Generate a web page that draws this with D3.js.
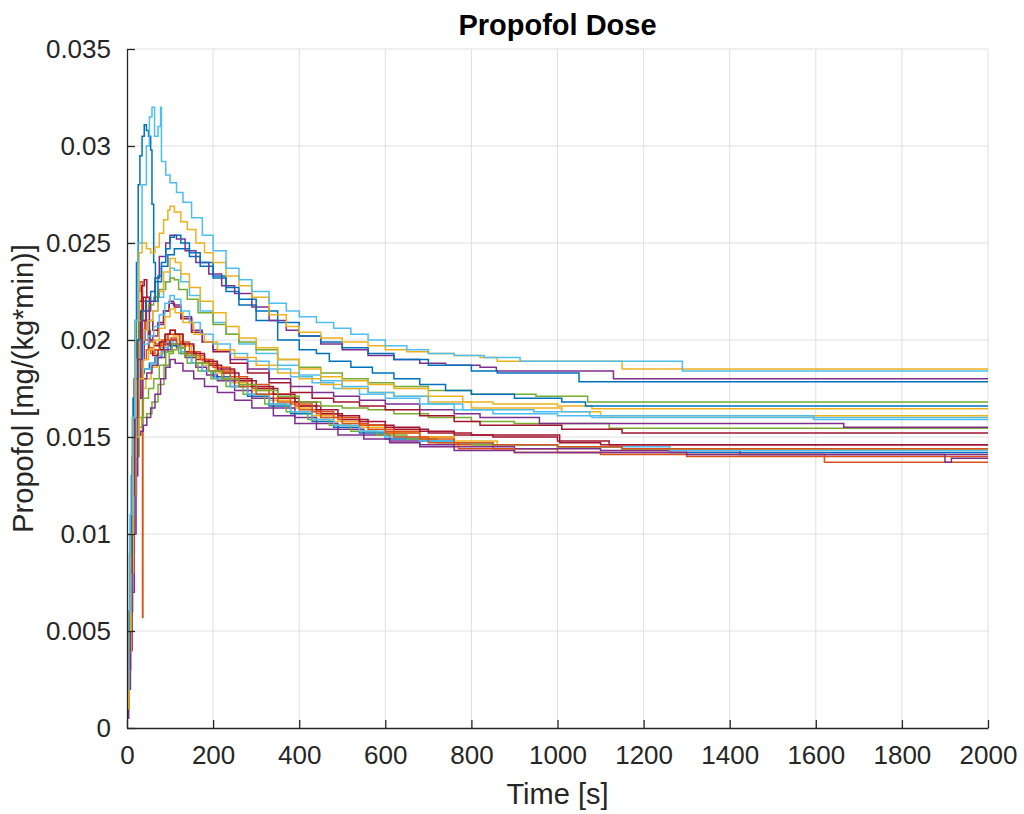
<!DOCTYPE html>
<html>
<head>
<meta charset="utf-8">
<script src="https://cdn.jsdelivr.net/npm/d3@7"></script>
<style>
  body { margin: 0; background: #fff; }
  text { font-family: Arial, "Liberation Sans", sans-serif; }
</style>
</head>
<body>
<svg id="chart" width="1024" height="814"></svg>
<script>
// Propofol dose per patient, [time s, dose mg/(kg*min)], held until the next sample
const cyanTop = [[0,.002],[3,.006],[7,.011],[12,.016],[18,.021],[25,.025],[35,.028],[45,.030],[52,.0315],[58,.032],[64,.0305],[72,.031],[78,.032],[80,.0292],[90,.0285],[100,.0281],[115,.0276],[130,.0271],[150,.0263],[175,.0254],[200,.0246],[230,.0237],[260,.0231],[290,.0225],[330,.0219],[370,.0215],[400,.0212],[440,.0209],[480,.0206],[520,.0203],[560,.0200],[600,.0197],[650,.0195],[700,.0193],[760,.0192],[830,.0191],[913,.0189],[1290,.0184],[2000,.0184]];
const yellowTop = [[0,.001],[4,.005],[8,.010],[14,.016],[20,.021],[28,.0245],[35,.025],[45,.0247],[55,.0245],[65,.0248],[75,.0255],[85,.0262],[95,.0267],[100,.0269],[110,.0266],[125,.0261],[140,.0257],[160,.0250],[180,.0245],[200,.0240],[230,.0233],[260,.0228],[290,.0222],[330,.0213],[370,.0207],[400,.0204],[450,.0201],[500,.0199],[560,.0197],[600,.0195],[650,.0194],[700,.0193],[760,.0192],[820,.0191],[860,.0189],[1150,.0185],[2000,.0185]];
const blueTop = [[0,.002],[3,.005],[6,.009],[10,.013],[14,.017],[18,.020],[22,.024],[26,.028],[30,.0295],[35,.0305],[40,.0311],[45,.0308],[50,.0305],[55,.0298],[58,.027],[62,.024],[66,.022],[72,.0233],[80,.0240],[90,.0247],[100,.0253],[110,.0254],[125,.0250],[145,.0245],[170,.0240],[200,.0233],[230,.0227],[260,.0221],[300,.0215],[350,.0209],[400,.0202],[450,.0199],[500,.0196],[560,.0193],[620,.0190],[700,.0187],[800,.0184],[860,.0183],[1050,.01785],[2000,.01785]];
const purpleTop = [[0,.001],[4,.004],[8,.008],[12,.012],[18,.016],[25,.019],[35,.021],[45,.0215],[55,.022],[65,.0232],[75,.0243],[90,.0250],[100,.0254],[115,.0252],[135,.0246],[160,.0240],[190,.0234],[220,.0228],[250,.0224],[290,.0217],[330,.0210],[370,.0205],[400,.0202],[450,.0198],[500,.0195],[560,.0192],[620,.0190],[680,.0188],[740,.0187],[820,.0186],[858,.0184],[1130,.0180],[2000,.0180]];
const blueUpper = [[0,.003],[4,.006],[8,.010],[13,.015],[18,.018],[25,.020],[35,.0215],[45,.022],[55,.0225],[65,.023],[80,.0238],[95,.0244],[110,.0247],[125,.0247],[145,.0243],[170,.0238],[200,.0232],[230,.0225],[260,.0218],[300,.0210],[350,.0200],[400,.0195],[440,.0193],[470,.0189],[520,.0186],[570,.0183],[620,.0180],[680,.0177],[740,.0174],[800,.0172],[900,.0170],[1010,.0168],[1065,.0166],[2000,.0166]];
const yellowUpper = [[0,.001],[4,.004],[9,.009],[14,.014],[20,.018],[28,.020],[38,.0205],[48,.021],[60,.0215],[72,.0225],[85,.0235],[100,.0242],[112,.0240],[125,.0234],[145,.0227],[170,.0220],[200,.0214],[230,.0207],[260,.0201],[300,.0196],[350,.0190],[400,.0185],[450,.0181],[500,.0179],[560,.0177],[620,.0175],[700,.0171],[780,.0168],[850,.0167],[1000,.0166],[1080,.01646],[2000,.01646]];
const cyanUpper = [[0,.002],[5,.006],[10,.011],[15,.015],[22,.019],[30,.020],[40,.0205],[50,.021],[60,.0215],[72,.0222],[85,.0230],[100,.0237],[110,.0236],[125,.0230],[145,.0223],[170,.0215],[200,.0209],[230,.0203],[260,.0198],[300,.0193],[350,.0187],[400,.0182],[450,.0179],[500,.0176],[560,.0173],[620,.0171],[700,.0167],[780,.0164],[945,.0163],[1075,.0161],[1595,.0159],[2000,.0159]];
const greenUpper = [[0,.002],[4,.005],[9,.010],[14,.015],[20,.019],[28,.021],[38,.0215],[50,.0218],[62,.0222],[75,.0226],[90,.0230],[100,.0232],[110,.0231],[120,.0226],[140,.0221],[165,.0214],[200,.0208],[230,.0203],[260,.0199],[300,.0195],[350,.0190],[400,.0186],[450,.0183],[500,.0180],[560,.0178],[620,.0176],[700,.0174],[800,.0172],[950,.0171],[1070,.0168],[2000,.0168]];
const yellowMid = [[0,.001],[5,.004],[10,.008],[15,.012],[20,.015],[28,.018],[38,.019],[50,.0195],[62,.020],[75,.0206],[88,.0212],[100,.0216],[112,.0214],[130,.0209],[155,.0203],[180,.0199],[210,.0195],[250,.0191],[300,.0187],[350,.0183],[400,.0180],[450,.0177],[500,.0175],[560,.0173],[620,.0171],[700,.0168],[800,.0165],[1010,.0163],[1100,.0161],[2000,.0161]];
const cyanMid = [[0,.002],[5,.005],[10,.010],[15,.014],[21,.017],[28,.019],[38,.0198],[50,.0202],[62,.0207],[75,.0213],[88,.0219],[100,.0223],[110,.0221],[125,.0215],[145,.0209],[170,.0203],[200,.0198],[240,.0193],[280,.0189],[330,.0185],[380,.0181],[430,.0178],[480,.0175],[540,.0172],[600,.0170],[680,.0167],[760,.0164],[850,.0162],[1000,.0161],[1080,.0160],[2000,.0160]];
const purpleMid = [[0,.001],[4,.003],[8,.006],[13,.010],[18,.014],[25,.017],[32,.019],[40,.0205],[50,.020],[60,.0202],[72,.0208],[85,.0215],[98,.0220],[108,.0218],[125,.0212],[150,.0205],[175,.0199],[200,.0195],[240,.0190],[280,.0185],[330,.0180],[380,.0176],[430,.0173],[480,.0171],[540,.0169],[600,.0167],[680,.0164],[760,.0162],[820,.0160],[958,.0157],[1665,.0155],[2000,.0155]];
const redMid = [[0,.002],[4,.005],[8,.009],[12,.013],[17,.017],[22,.020],[28,.022],[34,.0228],[40,.0231],[46,.0222],[52,.0210],[60,.0205],[72,.0209],[85,.0215],[98,.0219],[110,.0217],[125,.0211],[150,.0204],[175,.0199],[200,.0194],[240,.0188],[280,.0183],[330,.0178],[380,.0173],[430,.0170],[480,.0168],[540,.0166],[600,.0164],[680,.0161],[760,.0158],[820,.0156],[1010,.0154],[1150,.0152],[2000,.0152]];
const greenMid = [[0,.001],[5,.004],[10,.008],[15,.012],[20,.014],[28,.016],[38,.017],[50,.0175],[62,.018],[75,.0187],[90,.0194],[105,.0198],[118,.0196],[135,.0192],[160,.0188],[190,.0184],[220,.0180],[260,.0177],[300,.0174],[350,.0171],[400,.0168],[450,.0166],[500,.0165],[560,.0164],[620,.0162],[700,.0160],[800,.0158],[900,.0157],[1120,.01545],[2000,.01545]];
const redLow = [[0,.002],[4,.005],[8,.009],[12,.013],[17,.017],[22,.019],[28,.0205],[35,.021],[42,.0205],[50,.0195],[60,.0192],[72,.0195],[85,.0198],[100,.0200],[115,.0198],[135,.0194],[160,.0190],[190,.0187],[220,.0183],[260,.0179],[300,.0175],[350,.0170],[400,.0166],[450,.0162],[500,.0159],[560,.0156],[620,.0154],[700,.0152],[800,.0151],[1005,.0147],[1100,.0146],[2000,.0146]];
const redLow2 = [[0,.001],[5,.004],[9,.008],[14,.012],[19,.016],[25,.019],[31,.0215],[38,.0222],[44,.021],[52,.0200],[62,.0197],[75,.0199],[88,.0203],[100,.0205],[112,.0203],[130,.0198],[155,.0193],[180,.0189],[210,.0185],[250,.0180],[290,.0176],[340,.0172],[390,.0168],[440,.0164],[490,.0161],[540,.0158],[600,.0155],[680,.0153],[760,.0151],[850,.0150],[1000,.0148],[1120,.0146],[2000,.0146]];
const orangeLow = [[0,.002],[4,.005],[8,.009],[12,.013],[17,.016],[22,.019],[28,.021],[34,.0225],[36,.0057],[37,.019],[45,.0195],[55,.0193],[65,.0195],[78,.0199],[90,.0203],[100,.0205],[112,.0203],[130,.0197],[155,.0192],[180,.0188],[210,.0184],[250,.0179],[290,.0175],[340,.0170],[390,.0166],[440,.0162],[490,.0159],[540,.0156],[600,.0153],[680,.0150],[760,.0146],[850,.0144],[1000,.0142],[1300,.0140],[2000,.0140]];
const orangeLow2 = [[0,.001],[5,.004],[10,.008],[15,.012],[20,.016],[26,.019],[33,.0205],[42,.020],[52,.0196],[62,.0195],[75,.0197],[90,.0200],[102,.0201],[115,.0198],[135,.0193],[160,.0188],[190,.0184],[225,.0180],[260,.0176],[300,.0172],[350,.0168],[400,.0164],[450,.0160],[500,.0157],[560,.0154],[620,.0150],[700,.0147],[770,.0144],[900,.0142],[1100,.0141],[1620,.0137],[2000,.0137]];
const blueLow = [[0,.003],[4,.006],[8,.010],[12,.014],[17,.017],[23,.018],[30,.0183],[40,.0185],[52,.0188],[65,.0191],[80,.0194],[95,.0197],[108,.0197],[125,.0193],[150,.0188],[175,.0184],[200,.0181],[240,.0176],[280,.0171],[330,.0166],[380,.0162],[430,.0158],[480,.0155],[540,.0152],[600,.0149],[680,.0148],[760,.0147],[850,.0146],[1000,.0145],[1150,.0144],[1261,.0142],[2000,.0142]];
const purpleLow = [[0,.001],[4,.003],[8,.006],[12,.009],[17,.012],[22,.015],[28,.017],[36,.018],[46,.0183],[58,.0187],[72,.0191],[88,.0195],[102,.0198],[115,.0196],[135,.0191],[160,.0186],[185,.0182],[210,.0179],[250,.0174],[290,.0170],[340,.0165],[390,.0160],[440,.0157],[490,.0154],[550,.0151],[610,.0148],[680,.0146],[760,.0145],[900,.0144],[1100,.0143],[1424,.0141],[2000,.0141]];
const purpleBottom = [[0,.0005],[4,.002],[8,.004],[12,.007],[17,.010],[21,.013],[25,.0151],[32,.0153],[38,.0156],[46,.0160],[55,.0165],[65,.0172],[78,.0180],[90,.0186],[100,.0190],[112,.0188],[130,.0184],[155,.0180],[180,.0176],[210,.0173],[250,.0169],[290,.0165],[340,.0161],[390,.0157],[440,.0154],[490,.0151],[550,.0149],[610,.0147],[680,.0145],[760,.0143],[900,.0142],[1300,.0141],[1900,.0137],[1915,.0139],[2000,.0139]];
const greenLow = [[0,.002],[5,.005],[10,.009],[15,.012],[20,.014],[27,.0155],[35,.016],[46,.0162],[58,.0168],[72,.0177],[86,.0187],[98,.0193],[108,.0195],[120,.0193],[140,.0188],[165,.0184],[195,.0180],[230,.0176],[270,.0172],[320,.0167],[370,.0163],[420,.0159],[470,.0156],[520,.0153],[580,.0151],[650,.0149],[720,.0147],[800,.0146],[1000,.0145],[1150,.0144],[2000,.0144]];
const orangeLow3 = [[0,.002],[4,.006],[8,.010],[12,.014],[16,.018],[20,.021],[25,.0225],[30,.023],[36,.022],[44,.0205],[54,.0199],[66,.0198],[80,.0200],[95,.0203],[108,.0203],[122,.0199],[145,.0194],[170,.0190],[200,.0186],[240,.0181],[280,.0177],[330,.0172],[380,.0167],[430,.0163],[480,.0160],[540,.0156],[600,.0152],[680,.0149],[760,.0147],[850,.0146],[1000,.0145],[1150,.0144],[2000,.0144]];
const yellowLow = [[0,.001],[5,.004],[10,.008],[15,.012],[20,.015],[26,.017],[34,.0175],[44,.018],[56,.0186],[70,.0193],[84,.0199],[96,.0203],[108,.0202],[125,.0197],[150,.0191],[175,.0187],[205,.0183],[240,.0178],[280,.0174],[330,.0169],[380,.0165],[430,.0161],[480,.0158],[540,.0155],[600,.0152],[680,.0150],[760,.0148],[860,.0146],[1000,.0145],[1150,.0144],[2000,.0144]];
const cyanLow = [[0,.002],[4,.005],[9,.009],[14,.013],[19,.016],[25,.018],[33,.0185],[43,.0185],[55,.0188],[68,.0192],[82,.0196],[95,.0199],[108,.0198],[125,.0194],[150,.0188],[175,.0184],[205,.0180],[240,.0176],[280,.0172],[330,.0167],[380,.0163],[430,.0159],[480,.0156],[540,.0153],[600,.0150],[680,.0148],[760,.0147],[850,.0146],[1000,.0145],[1261,.0143],[2000,.0143]];

const xTicks = [0, 200, 400, 600, 800, 1000, 1200, 1400, 1600, 1800, 2000];
const yTicks = [0, 0.005, 0.01, 0.015, 0.02, 0.025, 0.03, 0.035];
const yTickLabels = ['0', '0.005', '0.01', '0.015', '0.02', '0.025', '0.03', '0.035'];

// drawing order and MATLAB default colour per line
const seriesList = [blueLow, orangeLow, yellowLow, purpleLow, greenLow, cyanLow, redLow,
  orangeLow2, purpleBottom, orangeLow3, redLow2, greenMid, redMid, purpleMid, cyanMid,
  yellowMid, cyanUpper, greenUpper, yellowUpper, blueUpper, purpleTop, blueTop, yellowTop, cyanTop];
const seriesColor = ['#0072BD', '#D95319', '#EDB120', '#7E2F8E', '#77AC30', '#4DBEEE', '#A2142F',
  '#D95319', '#7E2F8E', '#D95319', '#A2142F', '#77AC30', '#A2142F', '#7E2F8E', '#4DBEEE',
  '#EDB120', '#4DBEEE', '#77AC30', '#EDB120', '#0072BD', '#7E2F8E', '#0072BD', '#EDB120', '#4DBEEE'];

const margin = { top: 49, right: 36, bottom: 86, left: 127 };
const W = 1024, H = 814;
const w = W - margin.left - margin.right;
const h = H - margin.top - margin.bottom;

const svg = d3.select('#chart');
svg.append('rect').attr('width', W).attr('height', H).attr('fill', '#fff');
const g = svg.append('g').attr('transform', `translate(${margin.left},${margin.top})`);

const x = d3.scaleLinear().domain([0, 2000]).range([0, w]);
const y = d3.scaleLinear().domain([0, 0.035]).range([h, 0]);

// grid
const grid = g.append('g');
grid.selectAll('line.v').data(xTicks.slice(1)).join('line').attr('class', 'v')
  .attr('x1', d => x(d)).attr('x2', d => x(d)).attr('y1', 0).attr('y2', h);
grid.selectAll('line.h').data(yTicks.slice(1)).join('line').attr('class', 'h')
  .attr('x1', 0).attr('x2', w).attr('y1', d => y(d)).attr('y2', d => y(d));
grid.selectAll('line').attr('stroke', '#dfdfdf').attr('stroke-width', 1);

g.append('defs').append('clipPath').attr('id', 'clip')
  .append('rect').attr('width', w).attr('height', h);

const line = d3.line()
  .x(d => x(d[0]))
  .y(d => y(d[1]))
  .curve(d3.curveStepAfter);

g.append('g').attr('clip-path', 'url(#clip)')
  .selectAll('path').data(seriesList).join('path')
  .attr('d', line)
  .attr('fill', 'none')
  .attr('stroke', (d, i) => seriesColor[i])
  .attr('stroke-width', 1.5);

// axes, ticks pointing inward like MATLAB
const xAxis = g.append('g').attr('transform', `translate(0,${h})`)
  .call(d3.axisBottom(x).tickValues(xTicks).tickSizeInner(-8).tickSizeOuter(0).tickPadding(18)
    .tickFormat(d3.format('d')));
const yAxis = g.append('g')
  .call(d3.axisLeft(y).tickValues(yTicks).tickSizeInner(-8).tickSizeOuter(0).tickPadding(16)
    .tickFormat((d, i) => yTickLabels[i]));

[xAxis, yAxis].forEach(a => {
  a.select('.domain').attr('stroke', '#262626').attr('stroke-width', 1.3);
  a.selectAll('.tick line').attr('stroke', '#262626').attr('stroke-width', 1.3);
  a.selectAll('.tick text').attr('fill', '#262626').attr('font-size', 26)
    .attr('font-family', 'Arial, "Liberation Sans", sans-serif');
});

svg.append('text')
  .attr('x', margin.left + w / 2).attr('y', 35)
  .attr('text-anchor', 'middle').attr('font-size', 29).attr('font-weight', 'bold')
  .attr('fill', '#000').text('Propofol Dose');

svg.append('text')
  .attr('x', margin.left + w / 2).attr('y', 804)
  .attr('text-anchor', 'middle').attr('font-size', 29)
  .attr('fill', '#262626').text('Time [s]');

svg.append('text')
  .attr('transform', `translate(33,${margin.top + h / 2}) rotate(-90)`)
  .attr('text-anchor', 'middle').attr('font-size', 29)
  .attr('fill', '#262626').text('Propofol [mg/(kg*min)]');
</script>
</body>
</html>
